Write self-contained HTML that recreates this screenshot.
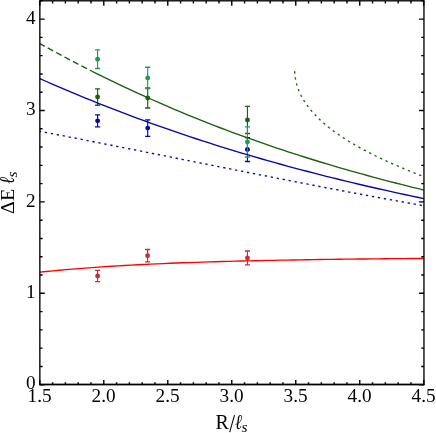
<!DOCTYPE html>
<html><head><meta charset="utf-8"><title>chart</title>
<style>html,body{margin:0;padding:0;background:#fff;}svg{display:block;will-change:transform;}body{font-family:"Liberation Serif",serif;}</style></head>
<body>
<svg width="436" height="433" viewBox="0 0 436 433">
<rect width="436" height="433" fill="#fff"/>
<defs><clipPath id="c"><rect x="39.85" y="0.8" width="384.10" height="383.70"/></clipPath></defs>
<g stroke="#0606a6" stroke-width="1.15" fill="#0606a6"><path d="M97.60,114.85V126.85" fill="none"/><path d="M95.05,114.85H100.15M95.05,126.85H100.15" fill="none" stroke-width="1.35"/><circle cx="97.60" cy="120.85" r="2.45" stroke="none"/></g>
<g stroke="#0606a6" stroke-width="1.15" fill="#0606a6"><path d="M147.70,119.90V136.30" fill="none"/><path d="M145.15,119.90H150.25M145.15,136.30H150.25" fill="none" stroke-width="1.35"/><circle cx="147.70" cy="128.10" r="2.45" stroke="none"/></g>
<g stroke="#0606a6" stroke-width="1.15" fill="#0606a6"><path d="M247.45,137.65V161.45" fill="none"/><path d="M244.90,137.65H250.00M244.90,161.45H250.00" fill="none" stroke-width="1.35"/><circle cx="247.45" cy="149.55" r="2.45" stroke="none"/></g>
<g stroke="#1e5e0f" stroke-width="1.15" fill="#1e5e0f"><path d="M97.60,88.80V105.20" fill="none"/><path d="M95.05,88.80H100.15M95.05,105.20H100.15" fill="none" stroke-width="1.35"/><circle cx="97.60" cy="97.00" r="2.45" stroke="none"/></g>
<g stroke="#1e5e0f" stroke-width="1.15" fill="#1e5e0f"><path d="M147.70,88.00V108.00" fill="none"/><path d="M145.15,88.00H150.25M145.15,108.00H150.25" fill="none" stroke-width="1.35"/><circle cx="147.70" cy="98.00" r="2.45" stroke="none"/></g>
<g stroke="#1e5e0f" stroke-width="1.15" fill="#1e5e0f"><path d="M247.45,106.40V133.50" fill="none"/><path d="M244.90,106.40H250.00M244.90,133.50H250.00" fill="none" stroke-width="1.35"/><circle cx="247.45" cy="119.95" r="2.45" stroke="none"/></g>
<g stroke="#1f9b50" stroke-width="1.15" fill="#1f9b50"><path d="M97.60,49.90V68.50" fill="none"/><path d="M95.05,49.90H100.15M95.05,68.50H100.15" fill="none" stroke-width="1.35"/><circle cx="97.60" cy="59.20" r="2.45" stroke="none"/></g>
<g stroke="#1f9b50" stroke-width="1.15" fill="#1f9b50"><path d="M147.70,67.25V88.55" fill="none"/><path d="M145.15,67.25H150.25M145.15,88.55H150.25" fill="none" stroke-width="1.35"/><circle cx="147.70" cy="77.90" r="2.45" stroke="none"/></g>
<g stroke="#1f9b50" stroke-width="1.15" fill="#1f9b50"><path d="M247.45,126.90V157.00" fill="none"/><path d="M244.90,126.90H250.00M244.90,157.00H250.00" fill="none" stroke-width="1.35"/><circle cx="247.45" cy="141.95" r="2.45" stroke="none"/></g>
<g stroke="#cc2b36" stroke-width="1.15" fill="#cc2b36"><path d="M97.60,270.40V281.60" fill="none"/><path d="M95.05,270.40H100.15M95.05,281.60H100.15" fill="none" stroke-width="1.35"/><circle cx="97.60" cy="276.00" r="2.45" stroke="none"/></g>
<g stroke="#cc2b36" stroke-width="1.15" fill="#cc2b36"><path d="M147.60,249.50V261.90" fill="none"/><path d="M145.05,249.50H150.15M145.05,261.90H150.15" fill="none" stroke-width="1.35"/><circle cx="147.60" cy="255.70" r="2.45" stroke="none"/></g>
<g stroke="#cc2b36" stroke-width="1.15" fill="#cc2b36"><path d="M247.45,251.00V264.90" fill="none"/><path d="M244.90,251.00H250.00M244.90,264.90H250.00" fill="none" stroke-width="1.35"/><circle cx="247.45" cy="257.95" r="2.45" stroke="none"/></g>
<g clip-path="url(#c)" fill="none" stroke-width="1.35" stroke-linejoin="round">
<path d="M39.85,131.29 L46.36,132.54 L52.87,133.80 L59.38,135.06 L65.89,136.33 L72.40,137.60 L78.91,138.87 L85.42,140.15 L91.93,141.43 L98.44,142.71 L104.95,144.00 L111.46,145.28 L117.97,146.57 L124.48,147.86 L130.99,149.16 L137.50,150.45 L144.01,151.75 L150.52,153.04 L157.03,154.34 L163.54,155.64 L170.05,156.94 L176.56,158.24 L183.07,159.54 L189.58,160.84 L196.09,162.14 L202.60,163.43 L209.11,164.73 L215.62,166.03 L222.13,167.32 L228.64,168.62 L235.16,169.91 L241.67,171.20 L248.18,172.49 L254.69,173.78 L261.20,175.06 L267.71,176.34 L274.22,177.62 L280.73,178.89 L287.24,180.17 L293.75,181.44 L300.26,182.70 L306.77,183.96 L313.28,185.22 L319.79,186.47 L326.30,187.72 L332.81,188.96 L339.32,190.20 L345.83,191.44 L352.34,192.67 L358.85,193.89 L365.36,195.11 L371.87,196.32 L378.38,197.52 L384.89,198.72 L391.40,199.91 L397.91,201.10 L404.42,202.28 L410.93,203.45 L417.44,204.61 L423.95,205.77" stroke="#0606a6" stroke-dasharray="2.3 3.76" stroke-dashoffset="1.0"/>
<path d="M39.85,78.61 L46.36,81.50 L52.87,84.36 L59.38,87.17 L65.89,89.95 L72.40,92.70 L78.91,95.41 L85.42,98.09 L91.93,100.74 L98.44,103.35 L104.95,105.93 L111.46,108.48 L117.97,110.99 L124.48,113.47 L130.99,115.92 L137.50,118.34 L144.01,120.73 L150.52,123.08 L157.03,125.41 L163.54,127.70 L170.05,129.97 L176.56,132.21 L183.07,134.41 L189.58,136.59 L196.09,138.74 L202.60,140.87 L209.11,142.96 L215.62,145.03 L222.13,147.07 L228.64,149.08 L235.16,151.07 L241.67,153.03 L248.18,154.96 L254.69,156.87 L261.20,158.75 L267.71,160.61 L274.22,162.45 L280.73,164.26 L287.24,166.05 L293.75,167.81 L300.26,169.55 L306.77,171.27 L313.28,172.96 L319.79,174.63 L326.30,176.28 L332.81,177.91 L339.32,179.52 L345.83,181.11 L352.34,182.67 L358.85,184.22 L365.36,185.75 L371.87,187.25 L378.38,188.74 L384.89,190.21 L391.40,191.66 L397.91,193.09 L404.42,194.51 L410.93,195.90 L417.44,197.28 L423.95,198.65" stroke="#0606a6"/>
<path d="M39.85,43.56 L42.49,45.04 L45.13,46.50 L47.77,47.95 L50.41,49.40 L53.05,50.84 L55.69,52.27 L58.33,53.70 L60.97,55.12 L63.61,56.53 L66.24,57.93 L68.88,59.33 L71.52,60.72 L74.16,62.10 L76.80,63.47 L79.44,64.84 L82.08,66.20 L84.72,67.55 L87.36,68.89 L90.00,70.23" stroke="#1e5e0f" stroke-dasharray="6.25 3.3" stroke-dashoffset="0.6"/>
<path d="M90.00,70.23 L95.66,73.08 L101.32,75.89 L106.98,78.67 L112.64,81.41 L118.30,84.13 L123.96,86.81 L129.62,89.46 L135.28,92.08 L140.94,94.66 L146.60,97.22 L152.26,99.75 L157.92,102.24 L163.58,104.71 L169.24,107.14 L174.90,109.55 L180.56,111.92 L186.22,114.27 L191.88,116.59 L197.54,118.87 L203.20,121.13 L208.86,123.37 L214.52,125.57 L220.18,127.75 L225.84,129.89 L231.50,132.01 L237.16,134.11 L242.82,136.18 L248.48,138.22 L254.14,140.23 L259.81,142.22 L265.47,144.19 L271.13,146.12 L276.79,148.04 L282.45,149.93 L288.11,151.79 L293.77,153.63 L299.43,155.45 L305.09,157.24 L310.75,159.01 L316.41,160.76 L322.07,162.49 L327.73,164.19 L333.39,165.87 L339.05,167.53 L344.71,169.17 L350.37,170.78 L356.03,172.38 L361.69,173.96 L367.35,175.51 L373.01,177.05 L378.67,178.57 L384.33,180.07 L389.99,181.55 L395.65,183.01 L401.31,184.45 L406.97,185.88 L412.63,187.29 L418.29,188.68 L423.95,190.06" stroke="#1e5e0f"/>
<path d="M294.67,71.30 L294.72,72.18 L294.78,73.07 L294.85,73.95 L294.93,74.84 L295.03,75.72 L295.14,76.61 L295.27,77.49 L295.40,78.38 L295.56,79.26 L295.72,80.15 L295.90,81.03 L296.10,81.92 L296.31,82.80 L296.54,83.69 L296.78,84.57 L297.03,85.46 L297.30,86.34 L297.59,87.23 L297.89,88.11 L298.21,89.00 L298.55,89.88 L298.90,90.77 L299.27,91.65 L299.65,92.54 L300.05,93.42 L300.47,94.31 L300.90,95.19 L301.35,96.08 L301.82,96.96 L302.30,97.85 L302.80,98.73 L303.32,99.62 L303.86,100.50 L304.41,101.39 L304.98,102.27 L305.57,103.16 L306.18,104.04 L306.80,104.93 L307.44,105.81 L308.10,106.69 L308.78,107.58 L309.47,108.46 L310.18,109.35 L310.91,110.23 L311.66,111.12 L312.43,112.00 L313.22,112.89 L314.02,113.77 L314.85,114.66 L315.69,115.54 L316.55,116.43 L317.43,117.31 L318.33,118.20 L319.24,119.08 L320.18,119.97 L321.14,120.85 L322.11,121.74 L323.11,122.62 L324.12,123.51 L325.16,124.39 L326.21,125.28 L327.29,126.16 L328.38,127.05 L329.50,127.93 L330.63,128.82 L331.79,129.70 L332.96,130.59 L334.16,131.47 L335.37,132.36 L336.61,133.24 L337.87,134.13 L339.15,135.01 L340.45,135.90 L341.77,136.78 L343.11,137.67 L344.47,138.55 L345.86,139.44 L347.26,140.32 L348.69,141.21 L350.14,142.09 L351.61,142.97 L353.11,143.86 L354.62,144.74 L356.16,145.63 L357.72,146.51 L359.30,147.40 L360.90,148.28 L362.53,149.17 L364.17,150.05 L365.84,150.94 L367.53,151.82 L369.25,152.71 L370.98,153.59 L372.74,154.48 L374.52,155.36 L376.32,156.25 L378.15,157.13 L379.99,158.02 L381.86,158.90 L383.75,159.79 L385.66,160.67 L387.60,161.56 L389.55,162.44 L391.53,163.33 L393.52,164.21 L395.54,165.10 L397.58,165.98 L399.64,166.87 L401.72,167.75 L403.83,168.64 L405.95,169.52 L408.09,170.41 L410.25,171.29 L412.43,172.18 L414.62,173.06 L416.84,173.95 L419.08,174.83 L421.33,175.72 L423.60,176.60" stroke="#1e5e0f" stroke-dasharray="2.3 3.78" stroke-dashoffset="0"/>
<path d="M39.85,272.15 L46.36,271.49 L52.87,270.86 L59.38,270.25 L65.89,269.67 L72.40,269.11 L78.91,268.59 L85.42,268.08 L91.93,267.60 L98.44,267.14 L104.95,266.70 L111.46,266.28 L117.97,265.88 L124.48,265.50 L130.99,265.14 L137.50,264.79 L144.01,264.46 L150.52,264.15 L157.03,263.85 L163.54,263.57 L170.05,263.29 L176.56,263.04 L183.07,262.79 L189.58,262.55 L196.09,262.33 L202.60,262.12 L209.11,261.91 L215.62,261.72 L222.13,261.53 L228.64,261.36 L235.16,261.19 L241.67,261.03 L248.18,260.87 L254.69,260.72 L261.20,260.58 L267.71,260.45 L274.22,260.32 L280.73,260.19 L287.24,260.07 L293.75,259.96 L300.26,259.85 L306.77,259.74 L313.28,259.64 L319.79,259.54 L326.30,259.45 L332.81,259.36 L339.32,259.27 L345.83,259.19 L352.34,259.11 L358.85,259.03 L365.36,258.96 L371.87,258.89 L378.38,258.82 L384.89,258.76 L391.40,258.70 L397.91,258.64 L404.42,258.59 L410.93,258.54 L417.44,258.50 L423.95,258.46" stroke="#ff0000"/>
</g>
<path d="M39.80,384.5v-4.55M39.80,0.8v4.9M52.60,384.5v-2.35M52.60,0.8v2.7M65.40,384.5v-2.35M65.40,0.8v2.7M78.19,384.5v-2.35M78.19,0.8v2.7M90.99,384.5v-2.35M90.99,0.8v2.7M103.79,384.5v-4.55M103.79,0.8v4.9M116.59,384.5v-2.35M116.59,0.8v2.7M129.39,384.5v-2.35M129.39,0.8v2.7M142.19,384.5v-2.35M142.19,0.8v2.7M154.98,384.5v-2.35M154.98,0.8v2.7M167.78,384.5v-4.55M167.78,0.8v4.9M180.58,384.5v-2.35M180.58,0.8v2.7M193.38,384.5v-2.35M193.38,0.8v2.7M206.18,384.5v-2.35M206.18,0.8v2.7M218.98,384.5v-2.35M218.98,0.8v2.7M231.77,384.5v-4.55M231.77,0.8v4.9M244.57,384.5v-2.35M244.57,0.8v2.7M257.37,384.5v-2.35M257.37,0.8v2.7M270.17,384.5v-2.35M270.17,0.8v2.7M282.97,384.5v-2.35M282.97,0.8v2.7M295.77,384.5v-4.55M295.77,0.8v4.9M308.56,384.5v-2.35M308.56,0.8v2.7M321.36,384.5v-2.35M321.36,0.8v2.7M334.16,384.5v-2.35M334.16,0.8v2.7M346.96,384.5v-2.35M346.96,0.8v2.7M359.76,384.5v-4.55M359.76,0.8v4.9M372.56,384.5v-2.35M372.56,0.8v2.7M385.36,384.5v-2.35M385.36,0.8v2.7M398.15,384.5v-2.35M398.15,0.8v2.7M410.95,384.5v-2.35M410.95,0.8v2.7M423.75,384.5v-4.55M423.75,0.8v4.9M39.85,384.72h4.9M423.95,384.72h-4.9M39.85,366.44h2.7M423.95,366.44h-2.7M39.85,348.16h2.7M423.95,348.16h-2.7M39.85,329.88h2.7M423.95,329.88h-2.7M39.85,311.60h2.7M423.95,311.60h-2.7M39.85,293.32h4.9M423.95,293.32h-4.9M39.85,275.03h2.7M423.95,275.03h-2.7M39.85,256.75h2.7M423.95,256.75h-2.7M39.85,238.47h2.7M423.95,238.47h-2.7M39.85,220.19h2.7M423.95,220.19h-2.7M39.85,201.91h4.9M423.95,201.91h-4.9M39.85,183.63h2.7M423.95,183.63h-2.7M39.85,165.35h2.7M423.95,165.35h-2.7M39.85,147.07h2.7M423.95,147.07h-2.7M39.85,128.79h2.7M423.95,128.79h-2.7M39.85,110.50h4.9M423.95,110.50h-4.9M39.85,92.22h2.7M423.95,92.22h-2.7M39.85,73.94h2.7M423.95,73.94h-2.7M39.85,55.66h2.7M423.95,55.66h-2.7M39.85,37.38h2.7M423.95,37.38h-2.7M39.85,19.10h4.9M423.95,19.10h-4.9M39.85,0.82h2.7M423.95,0.82h-2.7" stroke="#000" stroke-width="1.4" fill="none"/>
<rect x="39.85" y="0.8" width="384.10" height="383.70" fill="none" stroke="#000" stroke-width="1.35"/>
<path d="M39.18,384.55H424.62" fill="none" stroke="#000" stroke-width="1.6"/>
<g opacity="0.999" font-family="'Liberation Serif', serif" font-size="18.6" fill="#000">
<text transform="translate(39.60,402) scale(1.035,1)" text-anchor="middle">1.5</text>
<text transform="translate(103.59,402) scale(1.035,1)" text-anchor="middle">2.0</text>
<text transform="translate(167.58,402) scale(1.035,1)" text-anchor="middle">2.5</text>
<text transform="translate(231.57,402) scale(1.035,1)" text-anchor="middle">3.0</text>
<text transform="translate(295.57,402) scale(1.035,1)" text-anchor="middle">3.5</text>
<text transform="translate(359.56,402) scale(1.035,1)" text-anchor="middle">4.0</text>
<text transform="translate(423.55,402) scale(1.035,1)" text-anchor="middle">4.5</text>
<text transform="translate(35.7,389.12) scale(1.035,1)" text-anchor="end">0</text>
<text transform="translate(35.7,298.02) scale(1.035,1)" text-anchor="end">1</text>
<text transform="translate(35.7,206.61) scale(1.035,1)" text-anchor="end">2</text>
<text transform="translate(35.7,115.20) scale(1.035,1)" text-anchor="end">3</text>
<text transform="translate(35.7,23.80) scale(1.035,1)" text-anchor="end">4</text>
<text x="215.6" y="428.9" font-size="20">R</text>
<path d="M229.7,432.2L234.5,415.2" stroke="#000" stroke-width="1.05" fill="none"/>
<text transform="translate(234.9,428.9) scale(0.84,1.07)" font-size="20" font-style="italic">ℓ</text>
<text x="241.4" y="431.8" font-size="15.5" font-style="italic">s</text>
<g transform="translate(13.7,213.9) rotate(-90)">
<text transform="scale(1,0.965)" x="0" y="0" font-size="20">ΔE</text>
<text transform="translate(29.8,0) scale(0.84,1.07)" font-size="20" font-style="italic">ℓ</text>
<text x="36.3" y="2.9" font-size="15.5" font-style="italic">s</text>
</g>
</g>
</svg>
</body></html>
